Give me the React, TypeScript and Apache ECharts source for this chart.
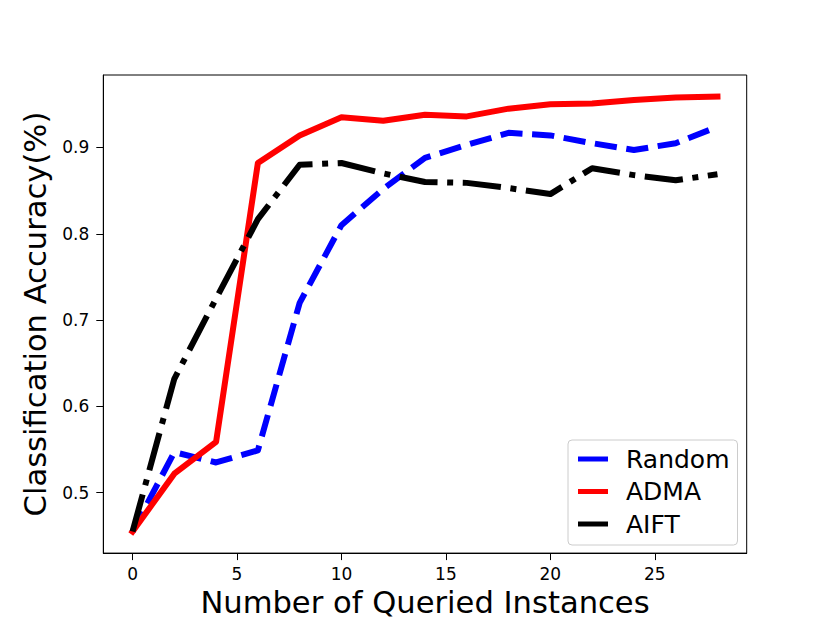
import React, { useEffect, useRef } from "react";
import * as echarts from "echarts";

const xValues = [0, 2, 4, 6, 8, 10, 12, 14, 16, 18, 20, 22, 24, 26, 28];
const randomAcc = [0.455, 0.547, 0.535, 0.549, 0.72, 0.81, 0.852, 0.888, 0.903, 0.917, 0.914, 0.905, 0.897, 0.905, 0.924];
const admaAcc = [0.455, 0.522, 0.559, 0.882, 0.914, 0.935, 0.931, 0.938, 0.936, 0.945, 0.95, 0.951, 0.955, 0.958, 0.959];
const aiftAcc = [0.455, 0.632, 0.725, 0.817, 0.88, 0.882, 0.87, 0.86, 0.859, 0.853, 0.846, 0.876, 0.868, 0.862, 0.869];
const xTicks = [0, 5, 10, 15, 20, 25];
const yTicks = [0.5, 0.6, 0.7, 0.8, 0.9];
const seriesNames = ["Random", "ADMA", "AIFT"];

const FONT = "DejaVu Sans";

export default function App() {
  const ref = useRef<HTMLDivElement>(null);
  useEffect(() => {
    if (!ref.current) return;
    const chart = echarts.init(ref.current, null, { renderer: "svg" });
    const toPairs = (ys: number[]) => xValues.map((x, i) => [x, ys[i]]);
    const lw = 6;
    chart.setOption({
      animation: false,
      backgroundColor: "#ffffff",
      grid: {
        left: 103.3,
        right: 83.3,
        top: 75,
        bottom: 69,
        show: true,
        borderColor: "#000",
        borderWidth: 1,
        backgroundColor: "transparent",
      },
      xAxis: {
        type: "value",
        min: -1.4,
        max: 29.4,
        name: "Number of Queried Instances",
        nameLocation: "middle",
        nameGap: 33,
        nameTextStyle: { fontFamily: FONT, fontSize: 30.6, color: "#000", lineHeight: 31 },
        axisLine: { show: true, onZero: false, lineStyle: { color: "#000", width: 1 } },
        axisTick: { show: true, length: 7, customValues: xTicks, lineStyle: { color: "#000", width: 1 } },
        axisLabel: {
          customValues: xTicks,
          margin: 12,
          fontFamily: FONT,
          fontSize: 17,
          color: "#000",
          formatter: (v: number) => String(v),
        },
        splitLine: { show: false },
      },
      yAxis: {
        type: "value",
        min: 0.43,
        max: 0.984,
        name: "Classification Accuracy(%)",
        nameLocation: "middle",
        nameGap: 48,
        nameRotate: 90,
        nameTextStyle: { fontFamily: FONT, fontSize: 30.6, color: "#000", lineHeight: 31 },
        axisLine: { show: true, onZero: false, lineStyle: { color: "#000", width: 1 } },
        axisTick: { show: true, length: 7, customValues: yTicks, lineStyle: { color: "#000", width: 1 } },
        axisLabel: {
          customValues: yTicks,
          margin: 14,
          fontFamily: FONT,
          fontSize: 17,
          color: "#000",
          formatter: (v: number) => v.toFixed(1),
        },
        splitLine: { show: false },
      },
      legend: {
        orient: "vertical",
        left: 568,
        top: 440,
        padding: [6.5, 8, 8.5, 10],
        itemGap: 7.5,
        itemWidth: 30,
        itemHeight: 5,
        icon: "rect",
        borderColor: "#cccccc",
        borderWidth: 1,
        borderRadius: 4,
        backgroundColor: "rgba(255,255,255,0.8)",
        itemStyle: { borderWidth: 0 },
        textStyle: { fontFamily: FONT, fontSize: 25, lineHeight: 25, color: "#000", padding: [0, 0, 0, 13] },
        data: seriesNames,
      },
      series: [
        {
          name: seriesNames[0],
          type: "line",
          data: toPairs(randomAcc),
          showSymbol: false,
          symbol: "none",
          color: "#0000ff",
          lineStyle: { color: "#0000ff", width: lw, type: [22.2, 9.6], cap: "butt", join: "round" },
        },
        {
          name: seriesNames[1],
          type: "line",
          data: toPairs(admaAcc),
          showSymbol: false,
          symbol: "none",
          color: "#ff0000",
          lineStyle: { color: "#ff0000", width: lw, type: "solid", cap: "square", join: "round" },
        },
        {
          name: seriesNames[2],
          type: "line",
          data: toPairs(aiftAcc),
          showSymbol: false,
          symbol: "none",
          color: "#000000",
          lineStyle: { color: "#000000", width: lw, type: [38.4, 9.6, 6, 9.6], cap: "butt", join: "round" },
        },
      ],
    });
    return () => chart.dispose();
  }, []);
  return (
    <div
      ref={ref}
      style={{ position: "fixed", left: 0, top: 0, width: 830, height: 623, background: "#fff" }}
    />
  );
}
